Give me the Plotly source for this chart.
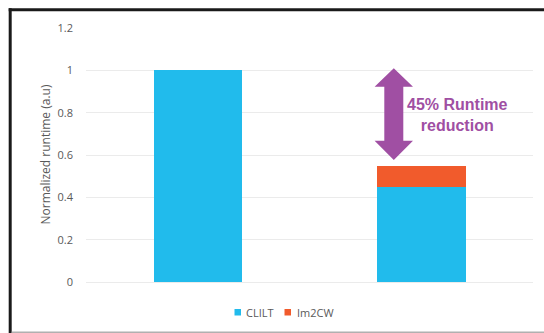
import plotly.graph_objects as go

# ---- data ----
categories = ["CLILT only", "CLILT + Im2CW"]
series_names = ["CLILT", "Im2CW"]
clilt_vals = [1.0, 0.45]
im2cw_vals = [None, 0.10]
ytick_vals = [0, 0.2, 0.4, 0.6, 0.8, 1.0, 1.2]
ytick_text = ["0", "0.2", "0.4", "0.6", "0.8", "1", "1.2"]
note_text = "45% Runtime<br>reduction"
ytitle = "Normalized runtime (a.u)"

W, H = 544, 333
ML, MR, MT, MB = 86, 11, 28, 51
PW, PH = W - ML - MR, H - MT - MB


def px(x):
    return (x - ML) / PW


def py(y):
    return (H - MB - y) / PH


BLUE = "#21BBEC"
ORANGE = "#F15B2C"
PURPLE = "#A04FA3"
GRAY = "#595959"
COLORS = [BLUE, ORANGE]
SMALL = "Open Sans, Lato, sans-serif"

fig = go.Figure()
fig.add_trace(go.Bar(x=categories, y=clilt_vals, name=series_names[0],
                     marker=dict(color=BLUE, line=dict(width=0))))
fig.add_trace(go.Bar(x=categories, y=im2cw_vals, name=series_names[1],
                     marker=dict(color=ORANGE, line=dict(width=0))))

shapes = []
# frame lines (screenshot border)
shapes.append(dict(type="rect", xref="paper", yref="paper",
                   x0=px(8.7), x1=px(11.7), y0=py(333), y1=py(8.3),
                   fillcolor="#1a1a1a", line=dict(width=0), layer="above"))
shapes.append(dict(type="rect", xref="paper", yref="paper",
                   x0=px(8.7), x1=px(544), y0=py(11.3), y1=py(8.3),
                   fillcolor="#1a1a1a", line=dict(width=0), layer="above"))
shapes.append(dict(type="rect", xref="paper", yref="paper",
                   x0=px(11.7), x1=px(544), y0=py(333), y1=py(331.5),
                   fillcolor="#B0B0B0", line=dict(width=0), layer="above"))

# double-headed arrow
cx = 393.8
hw, sw = 19.2, 9.5
top, tb, bb, bot = 68.3, 86.7, 140.7, 160.0
pts = [(cx, top), (cx + hw, tb), (cx + sw, tb), (cx + sw, bb), (cx + hw, bb),
       (cx, bot), (cx - hw, bb), (cx - sw, bb), (cx - sw, tb), (cx - hw, tb)]
path = "M " + " L ".join(f"{px(a):.5f},{py(b):.5f}" for a, b in pts) + " Z"
shapes.append(dict(type="path", xref="paper", yref="paper", path=path,
                   fillcolor=PURPLE, line=dict(width=0)))

annotations = [
    dict(text=note_text, xref="paper", yref="paper", x=px(457), y=py(115),
         xanchor="center", yanchor="middle", showarrow=False, align="center",
         font=dict(family="Liberation Sans, Arial, sans-serif", size=16,
                   color=PURPLE, weight="bold")),
    dict(text=ytitle, xref="paper", yref="paper", x=px(44.5), y=py(155),
         xanchor="center", yanchor="middle", showarrow=False, textangle=-90,
         font=dict(family=SMALL, size=12, color=GRAY)),
]

# compact legend (squares + labels) below the plot
leg_sq_x = [234.5, 284.5]
leg_txt_x = [243.5, 294.5]
for name, col, sx, tx in zip(series_names, COLORS, leg_sq_x, leg_txt_x):
    shapes.append(dict(type="rect", xref="paper", yref="paper",
                       x0=px(sx), x1=px(sx + 6.5), y0=py(315.5), y1=py(309),
                       fillcolor=col, line=dict(width=0)))
    annotations.append(dict(text=name, xref="paper", yref="paper",
                            x=px(tx), y=py(312.5), xanchor="left",
                            yanchor="middle", showarrow=False,
                            font=dict(family=SMALL, size=11, color=GRAY)))

fig.update_layout(
    width=W, height=H,
    margin=dict(l=ML, r=MR, t=MT, b=MB),
    paper_bgcolor="white", plot_bgcolor="white",
    barmode="stack", bargap=0.604,
    shapes=shapes, annotations=annotations,
    showlegend=False,
    xaxis=dict(showticklabels=False, showgrid=False, showline=False,
               zeroline=False, ticks=""),
    yaxis=dict(range=[0, 1.2], tickvals=ytick_vals, ticktext=ytick_text,
               showgrid=True, gridcolor="#EBEBEB", gridwidth=1,
               zeroline=True, zerolinecolor="#EBEBEB", zerolinewidth=1,
               showline=False, ticks="", ticklabelstandoff=12,
               tickfont=dict(family=SMALL, size=11, color=GRAY)),
)

fig.write_html("out.html", config={"displayModeBar": False},
               post_script="document.body.style.margin='0';document.body.style.overflow='hidden';")
